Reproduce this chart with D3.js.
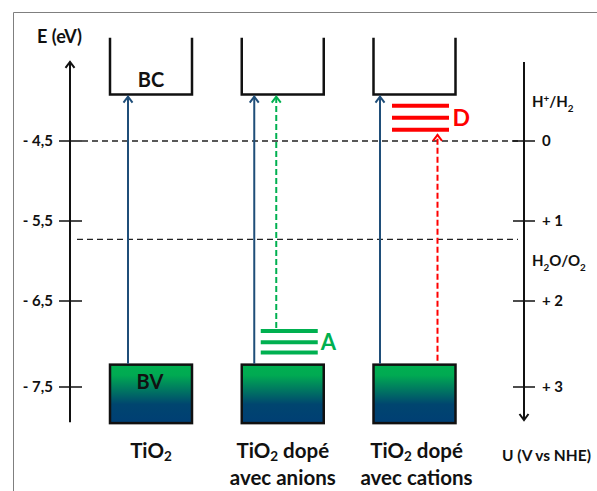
<!DOCTYPE html>
<html><head><meta charset="utf-8">
<script src="https://cdn.jsdelivr.net/npm/d3@7/dist/d3.min.js"></script>
<style>
html,body{margin:0;padding:0;background:#fff;}
svg{display:block;}
text{font-family:Lato,"Open Sans",sans-serif;font-weight:bold;fill:#111;}
</style></head>
<body>
<script>
// ---------- data ----------
const categories = ["TiO2", "TiO2 dopé avec anions", "TiO2 dopé avec cations"];
const categoryLines = [["TiO|2"], ["TiO|2| dopé", "avec anions"], ["TiO|2| dopé", "avec cations"]];
const energyTicks = [-4.5, -5.5, -6.5, -7.5];
const energyTickLabels = ["- 4,5", "- 5,5", "- 6,5", "- 7,5"];
const potentialTicks = [0, 1, 2, 3];
const potentialTickLabels = ["0", "+ 1", "+ 2", "+ 3"];
const redoxLevels = [0, 1.23];            // V vs NHE (H+/H2, H2O/O2)
const redoxLabels = ["H|+|/H|2", "H|2|O/O|2"];
const bcBottom = -3.92;   // conduction band edge (eV)
const bcTop = -3.21;
const bvTop = -7.24;      // valence band edge (eV)
const bvBottom = -7.92;
const anionLevels = [-6.85, -6.98, -7.10];  // A
const cationLevels = [-4.06, -4.21, -4.36]; // D
const eAxisRange = [-3.51, -7.91];

// ---------- layout ----------
const W = 597, H = 491;
const svg = d3.select("body").append("svg").attr("width", W).attr("height", H);

const y = d3.scaleLinear().domain(energyTicks).range([141, 221, 301, 387]);
const yU = u => y(-4.5 - u);
const x = d3.scalePoint().domain(categories).range([151, 414.5]);
const boxW = 82;
const arrowOffset = [-23, -28.5, -34.5];

const navy = "#1f4e79", green = "#00b050", red = "#ff0000";

// gradient
const defs = svg.append("defs");
const grad = defs.append("linearGradient").attr("id", "bv").attr("x1", 0).attr("y1", 0).attr("x2", 0).attr("y2", 1);
[[0, "#00b050"], [0.18, "#00aa52"], [0.68, "#00456f"], [1, "#003f74"]].forEach(([o, c]) =>
  grad.append("stop").attr("offset", o).attr("stop-color", c));

// frame
svg.append("path").attr("d", `M13.5,${H + 5} V12.5 H${W + 5}`).attr("fill", "none").attr("stroke", "#7f7f7f").attr("stroke-width", 1);

// helper: rich text with sub/superscripts, "a|b|c" -> a normal, b script, c normal
function rich(sel, str, size, scriptType, subDrop = 0.3) {
  const parts = str.split("|");
  parts.forEach((p, i) => {
    if (i % 2 === 0) {
      sel.append("tspan").text(p).attr("font-size", size)
        .attr("dy", i === 0 ? 0 : (scriptType[(i / 2 - 1) | 0] === "sub" ? -size * subDrop : size * 0.35));
    } else {
      const t = scriptType[(i - 1) / 2];
      sel.append("tspan").text(p).attr("font-size", size * 0.66)
        .attr("dy", t === "sub" ? size * subDrop : -size * 0.35);
    }
  });
}
function arrowHead(g, cx, cy, color, up) {
  const d = up ? 1 : -1;
  g.append("path").attr("d", `M${cx - 4.5},${cy + 6 * d} L${cx},${cy} L${cx + 4.5},${cy + 6 * d}`)
    .attr("fill", "none").attr("stroke", color).attr("stroke-width", 2);
}

// dashed redox lines
redoxLevels.forEach((u, i) => {
  svg.append("line").attr("x1", i === 0 ? 82 : 77).attr("x2", 518).attr("y1", yU(u)).attr("y2", yU(u))
    .attr("stroke", "#222").attr("stroke-width", 1.3).attr("stroke-dasharray", "6,4");
});

// left axis
const la = svg.append("g");
la.append("line").attr("x1", 70).attr("x2", 70).attr("y1", y(eAxisRange[0])).attr("y2", y(eAxisRange[1]))
  .attr("stroke", "#111").attr("stroke-width", 2);
arrowHead(la, 70, y(eAxisRange[0]), "#111", true);
energyTicks.forEach((e, i) => {
  la.append("line").attr("x1", 59).attr("x2", 82).attr("y1", y(e)).attr("y2", y(e)).attr("stroke", "#111").attr("stroke-width", 1.5);
  la.append("text").attr("x", 53).attr("y", y(e)).attr("dy", "0.35em").attr("text-anchor", "end")
    .attr("font-size", 15).text(energyTickLabels[i]);
});
la.append("text").attr("x", 37).attr("y", 43).attr("font-size", 18).text("E (eV)");

// right axis
const ra = svg.append("g");
ra.append("line").attr("x1", 524).attr("x2", 524).attr("y1", 62).attr("y2", 420)
  .attr("stroke", "#111").attr("stroke-width", 2);
arrowHead(ra, 524, 420, "#111", false);
potentialTicks.forEach((u, i) => {
  ra.append("line").attr("x1", 513).attr("x2", 535).attr("y1", yU(u)).attr("y2", yU(u)).attr("stroke", "#111").attr("stroke-width", 1.5);
  ra.append("text").attr("x", 542).attr("y", yU(u)).attr("dy", "0.35em")
    .attr("font-size", 15).text(potentialTickLabels[i]);
});
rich(ra.append("text").attr("x", 532).attr("y", 107), redoxLabels[0], 15, ["sup", "sub"]);
rich(ra.append("text").attr("x", 532).attr("y", 266), redoxLabels[1], 15, ["sub", "sub"]);
ra.append("text").attr("x", 502).attr("y", 461).attr("font-size", 15.5).text("U (V vs NHE)");

// columns
categories.forEach((c, i) => {
  const cx = x(c), g = svg.append("g");
  // BC (open top box)
  g.append("path").attr("d", `M${cx - boxW / 2},${y(bcTop)} V${y(bcBottom)} H${cx + boxW / 2} V${y(bcTop)}`)
    .attr("fill", "none").attr("stroke", "#111").attr("stroke-width", 2.5);
  // BV
  g.append("rect").attr("x", cx - boxW / 2).attr("y", y(bvTop)).attr("width", boxW).attr("height", y(bvBottom) - y(bvTop))
    .attr("fill", "url(#bv)").attr("stroke", "#111").attr("stroke-width", 2.5);
  // band gap arrow
  const ax = cx + arrowOffset[i];
  g.append("line").attr("x1", ax).attr("x2", ax).attr("y1", y(bvTop) - 1).attr("y2", y(bcBottom) + 2)
    .attr("stroke", navy).attr("stroke-width", 2);
  arrowHead(g, ax, y(bcBottom) + 2, navy, true);
  // category label
  categoryLines[i].forEach((ln, j) => {
    const t = g.append("text").attr("x", cx + (i === 2 ? 2 : 0)).attr("y", 458 + j * 27).attr("text-anchor", "middle");
    rich(t, ln, 20.5, ["sub"], 0.16);
  });
  if (i === 0) {
    g.append("text").attr("x", cx).attr("y", y(bcBottom) - 15).attr("dy", "0.35em").attr("text-anchor", "middle")
      .attr("font-size", 20).text("BC");
    g.append("text").attr("x", cx - 1).attr("y", y(bvTop) + 17).attr("dy", "0.35em").attr("text-anchor", "middle")
      .attr("font-size", 20).text("BV");
  }
});

// anion levels (A)
const cA = x(categories[1]);
anionLevels.forEach(e => {
  svg.append("line").attr("x1", cA - 22).attr("x2", cA + 35).attr("y1", y(e)).attr("y2", y(e))
    .attr("stroke", green).attr("stroke-width", 4);
});
svg.append("text").attr("x", cA + 38).attr("y", y(anionLevels[1])).attr("dy", "0.36em")
  .attr("font-size", 22).style("fill", green).text("A");
svg.append("line").attr("x1", cA - 6.5).attr("x2", cA - 6.5).attr("y1", y(anionLevels[0]) - 3).attr("y2", y(bcBottom) + 2)
  .attr("stroke", green).attr("stroke-width", 2).attr("stroke-dasharray", "6,3");
arrowHead(svg, cA - 6.5, y(bcBottom) + 2, green, true);

// cation levels (D)
const cD = x(categories[2]);
cationLevels.forEach(e => {
  svg.append("line").attr("x1", cD - 22.5).attr("x2", cD + 34.5).attr("y1", y(e)).attr("y2", y(e))
    .attr("stroke", red).attr("stroke-width", 4);
});
svg.append("text").attr("x", cD + 38).attr("y", y(cationLevels[1])).attr("dy", "0.36em")
  .attr("font-size", 23).style("fill", red).text("D");
svg.append("line").attr("x1", cD + 23).attr("x2", cD + 23).attr("y1", y(bvTop) - 4).attr("y2", y(cationLevels[2]) + 5)
  .attr("stroke", red).attr("stroke-width", 2).attr("stroke-dasharray", "6,3");
arrowHead(svg, cD + 23, y(cationLevels[2]) + 5, red, true);
</script>
</body></html>
